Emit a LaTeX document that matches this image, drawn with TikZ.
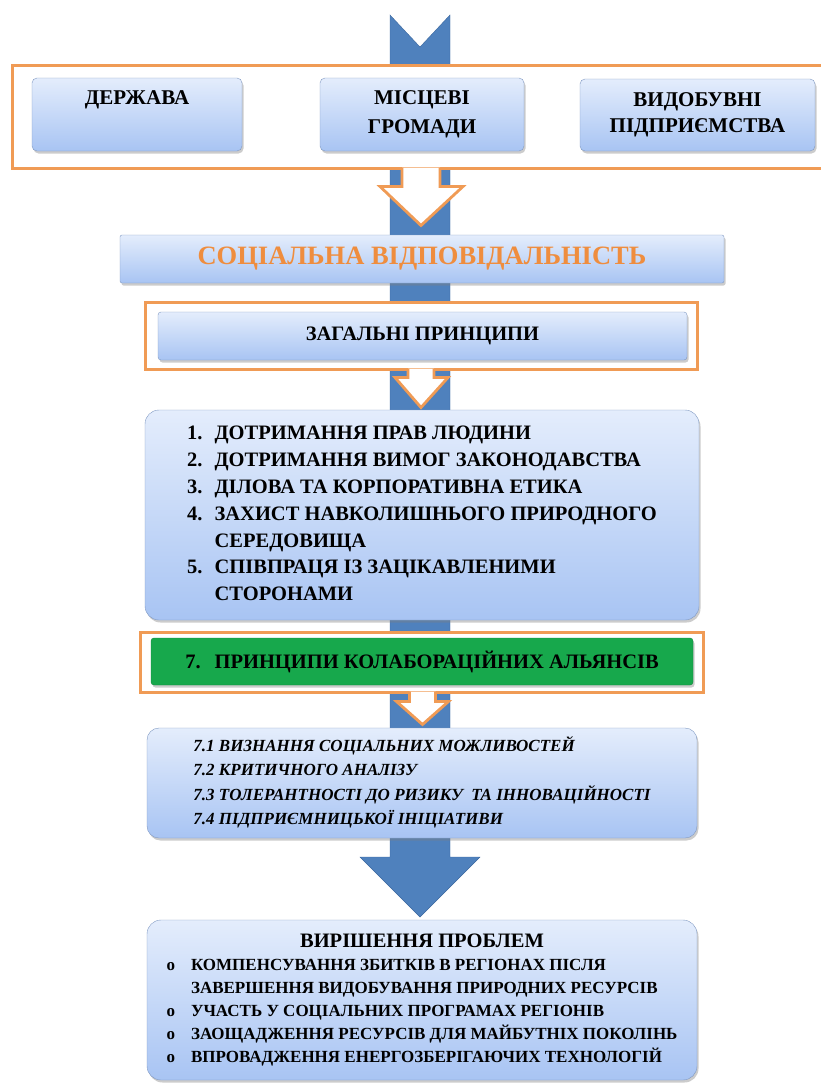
\documentclass[tikz,border=0pt]{standalone}
\usepackage{fontspec}
\setmainfont{Liberation Serif}
\usetikzlibrary{shadows,backgrounds}

\definecolor{boxtop}{HTML}{E4EDFC}
\definecolor{boxbot}{HTML}{A8C4F3}
\definecolor{boxedge}{HTML}{8099C2}
\definecolor{frameorange}{HTML}{F09B55}
\definecolor{socorange}{HTML}{EF8D3E}
\definecolor{kgreen}{HTML}{17A84C}
\definecolor{arrowblue}{HTML}{4F81BD}
\definecolor{arrowedge}{HTML}{3B679E}

\tikzset{
	bluebox/.style={draw=boxedge, top color=boxtop, bottom color=boxbot, rounded corners=#1, inner sep=0pt, align=center,
		drop shadow={opacity=0.4, shadow xshift=1.5pt, shadow yshift=-2.5pt}},
	bluebox/.default=5pt,
	greenbox/.style={draw=kgreen!80!black, fill=kgreen, rounded corners=3pt, inner sep=0pt, align=center,
		drop shadow={opacity=0.4, shadow xshift=1.5pt, shadow yshift=-2.5pt}},
	frame/.style={draw=frameorange, line width=3pt, fill=white, inner sep=0pt},
	hollow/.style={draw=frameorange, line width=2.8pt, fill=white, line join=miter},
}

\begin{document}
\begin{tikzpicture}[x=1pt, y=-1pt]
	\useasboundingbox (0,0) rectangle (820,1084);

	\node[frame, minimum width=848pt, minimum height=103pt] (fr1) at (436,116.5) {};
	\node[frame, minimum width=552pt, minimum height=67pt] (fr2) at (421,335.5) {};
	\node[frame, minimum width=563pt, minimum height=60pt] (fr3) at (421.5,662) {};

	\node[bluebox, minimum width=210pt, minimum height=73pt, font=\fontsize{21}{26}\selectfont\bfseries] (derzh) at (137,114.5) {ДЕРЖАВА\\ \strut};
	\node[bluebox, minimum width=204pt, minimum height=73pt, font=\fontsize{21}{29}\selectfont\bfseries] (gromady) at (422,114.5) {МІСЦЕВІ\\ ГРОМАДИ};
	\node[bluebox, minimum width=235pt, minimum height=72pt, font=\fontsize{21}{26}\selectfont\bfseries] (vydob) at (697.5,115) {ВИДОБУВНІ\\ ПІДПРИЄМСТВА};

	\node[bluebox=2pt, minimum width=604pt, minimum height=48pt, text=socorange, font=\fontsize{26.5}{30}\selectfont\bfseries] (social) at (422,259) {СОЦІАЛЬНА ВІДПОВІДАЛЬНІСТЬ};

	\node[bluebox=3pt, minimum width=529pt, minimum height=48pt, font=\fontsize{20.5}{25}\selectfont\bfseries] (general) at (422.5,336) {ЗАГАЛЬНІ ПРИНЦИПИ};

	\node[bluebox=14pt, minimum width=554pt, minimum height=210pt, font=\fontsize{20.5}{26.8}\selectfont\bfseries] (princ) at (422,515) {%
		\begin{tabular}{@{}l@{\hspace{12pt}}l@{}}
			1. & ДОТРИМАННЯ ПРАВ ЛЮДИНИ\\
			2. & ДОТРИМАННЯ ВИМОГ ЗАКОНОДАВСТВА\\
			3. & ДІЛОВА ТА КОРПОРАТИВНА ЕТИКА\\
			4. & ЗАХИСТ НАВКОЛИШНЬОГО ПРИРОДНОГО\\
			   & СЕРЕДОВИЩА\\
			5. & СПІВПРАЦЯ ІЗ ЗАЦІКАВЛЕНИМИ\\
			   & СТОРОНАМИ
		\end{tabular}};

	\node[greenbox, minimum width=542pt, minimum height=47pt, font=\fontsize{20.5}{24}\selectfont\bfseries] (collab) at (422,661.5) {7.\hspace{14pt}ПРИНЦИПИ КОЛАБОРАЦІЙНИХ АЛЬЯНСІВ};

	\node[bluebox=12pt, minimum width=550pt, minimum height=110pt, font=\fontsize{17}{24.5}\selectfont\bfseries\itshape] (subprinc) at (422,783) {%
		\begin{tabular}{@{}l@{}}
			7.1 ВИЗНАННЯ СОЦІАЛЬНИХ МОЖЛИВОСТЕЙ\\
			7.2 КРИТИЧНОГО АНАЛІЗУ\\
			7.3 ТОЛЕРАНТНОСТІ ДО РИЗИКУ \ ТА ІННОВАЦІЙНОСТІ\\
			7.4 ПІДПРИЄМНИЦЬКОЇ ІНІЦІАТИВИ
		\end{tabular}};

	\node[bluebox=14pt, minimum width=550pt, minimum height=160pt, font=\fontsize{17}{23}\selectfont\bfseries] (result) at (422,1000) {%
		\begin{tabular}{@{}l@{\hspace{16pt}}l@{}}
			\multicolumn{2}{c}{\fontsize{20.5}{23}\selectfont ВИРІШЕННЯ ПРОБЛЕМ}\\
			o & КОМПЕНСУВАННЯ ЗБИТКІВ В РЕГІОНАХ ПІСЛЯ\\
			  & ЗАВЕРШЕННЯ ВИДОБУВАННЯ ПРИРОДНИХ РЕСУРСІВ\\
			o & УЧАСТЬ У СОЦІАЛЬНИХ ПРОГРАМАХ РЕГІОНІВ\\
			o & ЗАОЩАДЖЕННЯ РЕСУРСІВ ДЛЯ МАЙБУТНІХ ПОКОЛІНЬ\\
			o & ВПРОВАДЖЕННЯ ЕНЕРГОЗБЕРІГАЮЧИХ ТЕХНОЛОГІЙ
		\end{tabular}};

	\begin{scope}[on background layer]
		\filldraw[fill=arrowblue, draw=arrowedge] (390,15) -- (420,47) -- (450,15) -- (450,857) -- (480,857) -- (420,917) -- (360,857) -- (390,857) -- cycle;
	\end{scope}

	\filldraw[hollow] ([xshift=-34pt,yshift=2pt]fr1.south) -- ++(0,19) -- ++(-22,0) -- ++(41,39) -- ++(42,-39) -- ++(-23,0) -- ++(0,-19);
	\filldraw[hollow] ([xshift=-13pt,yshift=2pt]fr2.south) -- ++(0,9) -- ++(-13,0) -- ++(26,30) -- ++(27,-30) -- ++(-14,0) -- ++(0,-9);
	\filldraw[hollow] ([xshift=-12pt,yshift=2pt]fr3.south) -- ++(0,10) -- ++(-13,0) -- ++(26,23) -- ++(26,-23) -- ++(-13,0) -- ++(0,-10);
\end{tikzpicture}
\end{document}
